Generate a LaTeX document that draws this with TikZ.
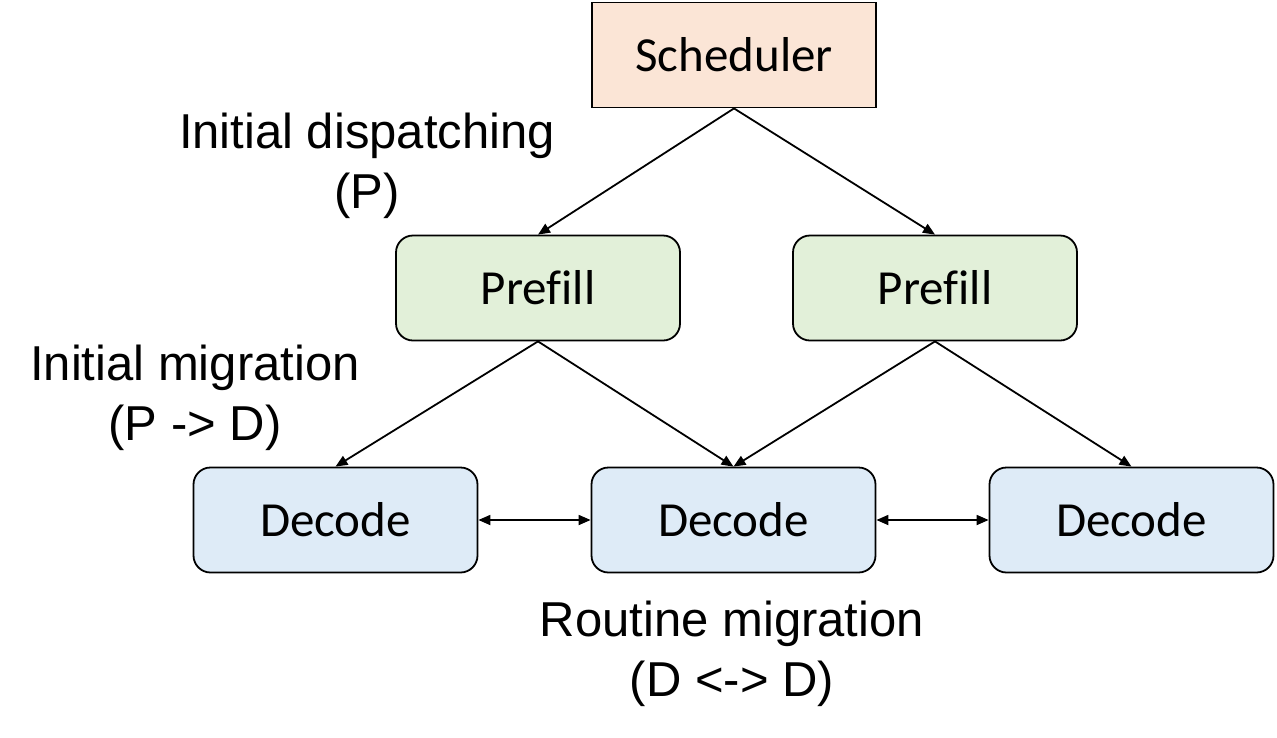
\documentclass[tikz,border=0pt]{standalone}
\usepackage{fontspec}
\setmainfont{Liberation Sans}
\newfontfamily\boxfont[Ligatures=NoCommon]{Carlito}
\usetikzlibrary{arrows.meta}
\definecolor{schedfill}{HTML}{FBE5D6}
\definecolor{prefillfill}{HTML}{E2F0D9}
\definecolor{decodefill}{HTML}{DEEBF7}
\begin{document}
\begin{tikzpicture}[x=1pt,y=-1pt,
  box/.style={draw=black, line width=1.8pt, minimum width=284pt, minimum height=105pt, inner sep=0pt,
    font=\boxfont\fontsize{49}{55}\selectfont},
  schedbox/.style={box, fill=schedfill},
  prefillbox/.style={box, fill=prefillfill, rounded corners=17pt},
  decodebox/.style={box, fill=decodefill, rounded corners=17pt},
  lbl/.style={align=center, inner sep=0pt, font=\fontsize{49}{60}\selectfont},
  conn/.style={line width=1.8pt, -{Triangle[length=12pt,width=10pt]}},
  dconn/.style={line width=1.8pt, {Triangle[length=12pt,width=10pt]}-{Triangle[length=12pt,width=10pt]}}
]
\useasboundingbox (0,0) rectangle (1277,737);
\node[schedbox] (sch) at (734,55) {Scheduler};
\node[prefillbox] (p1) at (538,288) {Prefill};
\node[prefillbox] (p2) at (935,288) {Prefill};
\node[decodebox] (d1) at (335.5,520) {Decode};
\node[decodebox] (d2) at (733.5,520) {Decode};
\node[decodebox] (d3) at (1131.5,520) {Decode};
\draw[conn] (sch.south) -- (p1.north);
\draw[conn] (sch.south) -- (p2.north);
\draw[conn] (p1.south) -- (d1.north);
\draw[conn] (p1.south) -- (d2.north);
\draw[conn] (p2.south) -- (d2.north);
\draw[conn] (p2.south) -- (d3.north);
\draw[dconn] (d1.east) -- (d2.west);
\draw[dconn] (d2.east) -- (d3.west);
\node[lbl] (l1) at (367,166) {Initial dispatching\\(P)};
\node[lbl] (l2) at (195,398) {Initial migration\\(P -> D)};
\node[lbl] (l3) at (732,654) {Routine migration\\(D <-> D)};
\end{tikzpicture}
\end{document}
